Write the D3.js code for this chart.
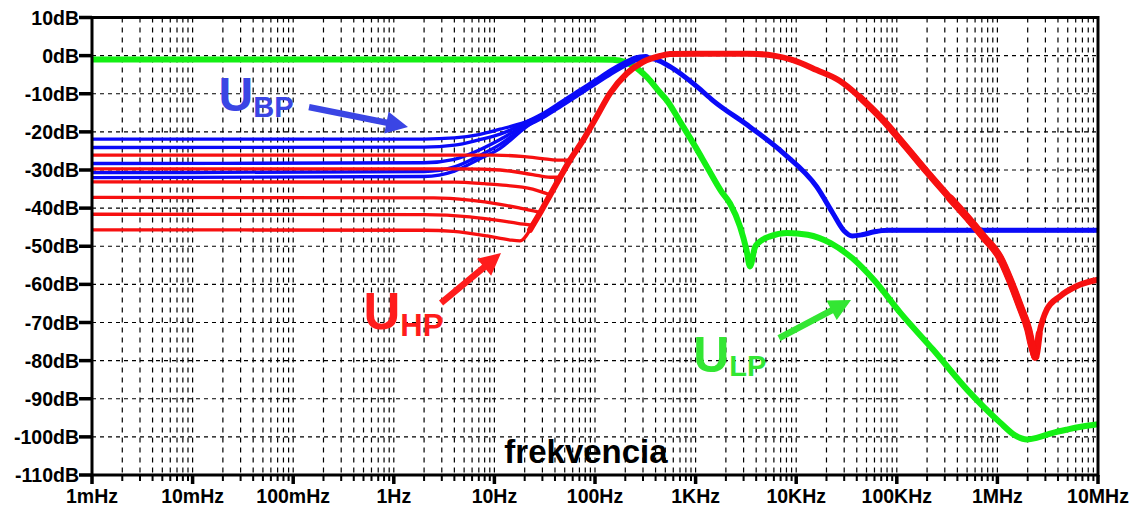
<!DOCTYPE html>
<html><head><meta charset="utf-8">
<script src="https://cdn.jsdelivr.net/npm/d3@7"></script>
<style>
html,body{margin:0;padding:0;background:#fff;}
svg{display:block;}
text{font-family:"Liberation Sans",Arial,"DejaVu Sans",sans-serif;font-weight:bold;}
</style></head><body>
<svg id="chart" width="1138" height="510"></svg>
<script>
// ---- axis ticks ----
const xTickValues = [1e-3,1e-2,1e-1,1,10,100,1e3,1e4,1e5,1e6,1e7];
const xTickLabels = ["1mHz","10mHz","100mHz","1Hz","10Hz","100Hz","1KHz","10KHz","100KHz","1MHz","10MHz"];
const yTickValues = [10,0,-10,-20,-30,-40,-50,-60,-70,-80,-90,-100,-110];
const yTickLabels = ["10dB","0dB","-10dB","-20dB","-30dB","-40dB","-50dB","-60dB","-70dB","-80dB","-90dB","-100dB","-110dB"];

// ---- series: [frequency Hz, dB] ----
const lowPass = [[1e-3,-1.0],[100,-1.0],[150,-1.1],[200,-1.7],[240,-2.7],[330,-5.7],[440,-9.6],[520,-11.8],[700,-17.3],[1000,-24.0],[1300,-29.2],[1800,-35.6],[2200,-38.8],[2760,-44.8],[3200,-50.9],[3470,-55.3],[3900,-50.2],[4400,-48.7],[5500,-47.4],[8100,-46.5],[13000,-47.0],[22000,-49.2],[36000,-53.1],[59000,-58.8],[108000,-67.4],[229000,-77.1],[499000,-87.6],[1.06e6,-96.2],[1.5e6,-99.6],[1.97e6,-100.7],[2.5e6,-100.2],[3.5e6,-99.0],[4.9e6,-98.1],[7e6,-97.3],[1e7,-96.7]];

const bandPassLow1 = [[1e-3,-21.9],[2,-21.9],[4,-21.6],[7,-20.7],[11.4,-19.3],[20,-17.5]];
const bandPassLow2 = [[1e-3,-24.1],[2,-24.0],[4,-23.5],[7,-22.1],[11.4,-20.6],[20,-17.8]];
const bandPassLow3 = [[1e-3,-28.3],[2,-28.1],[4,-27.2],[7,-24.8],[11.4,-22.0],[20,-18.2]];
const bandPassLow4 = [[1e-3,-30.7],[2,-30.4],[4,-29.2],[7,-26.3],[11.4,-23.3],[20,-18.6]];
const bandPassLow5 = [[1e-3,-32.0],[2,-31.7],[4,-30.3],[7,-27.2],[11.4,-24.3],[20,-19.0]];
const bandPassCommon = [[20,-18.1],[30,-15.8],[45,-12.9],[70,-9.6],[100,-7.0],[150,-4.0],[205,-2.0],[260,-0.8],[320,-0.5],[400,-1.0],[557,-2.9],[1040,-8.2],[1490,-11.8],[3470,-18.7],[7400,-25.5],[16000,-34.4],[23000,-41.2],[30000,-46.0],[36000,-47.3],[45000,-47.0],[60000,-46.2],[80000,-45.8],[1e7,-45.8]];

const highPassLow1 = [[1e-3,-26.1],[10,-26.1],[20,-26.5],[30,-27.0],[42,-27.4],[56.4,-27.4]];
const highPassLow2 = [[1e-3,-29.7],[5,-29.7],[11.4,-30.0],[24,-31.2],[36,-31.9],[45,-31.9]];
const highPassLow3 = [[1e-3,-33.1],[4,-33.2],[8,-33.6],[11.4,-33.9],[24,-35.0],[35.7,-36.5]];
const highPassLow4 = [[1e-3,-37.2],[2.5,-37.3],[5.7,-37.9],[11.4,-39.0],[18,-40.0],[28.4,-41.1]];
const highPassLow5 = [[1e-3,-41.6],[2,-41.7],[5.7,-42.3],[11.4,-43.3],[17,-44.0],[24,-44.5]];
const highPassLow6 = [[1e-3,-45.7],[2,-45.8],[3.9,-46.1],[8.5,-47.3],[14,-48.3],[17.9,-48.6],[22.6,-45.7]];
const highPassCommon = [[22.6,-45.7],[28.4,-41.3],[35.7,-36.6],[41.6,-33.5],[56.4,-27.4],[76.5,-22.1],[104,-16.0],[141,-9.9],[207,-4.7],[302,-1.6],[443,-0.1],[557,0.4],[1000,0.5],[3470,0.5],[6000,0.0],[9300,-1.2],[16000,-3.8],[27000,-6.6],[43000,-10.9],[73000,-16.9],[125000,-24.1],[198000,-30.4],[338000,-37.4],[496000,-42.3],[726000,-47.5],[1.06e6,-53.0],[1.33e6,-58.8],[1.68e6,-65.8],[2.03e6,-71.9],[2.2e6,-76.0],[2.38e6,-79.0],[2.6e6,-73.0],[3.1e6,-66.6],[4.2e6,-63.1],[6.1e6,-60.5],[1e7,-58.8]];

// ---- annotations (data coordinates) ----
const annoLabels = [
  {main:"U", sub:"BP", f:0.0181, db:-14.5, mainSize:48, subSize:29, subDy:6, color:"#3a45e4"},
  {main:"U", sub:"HP", f:0.50, db:-71.8, mainSize:51, subSize:31, subDy:7, color:"#ff1c1c"},
  {main:"U", sub:"LP", f:946, db:-82.9, mainSize:50, subSize:29, subDy:4, color:"#33e633"}
];
const annoArrows = [
  {f1:0.1436, db1:-13.5, f2:1.384, db2:-18.7, color:"#3a45e4"},
  {f1:2.95, db1:-64.9, f2:11.63, db2:-51.8, color:"#ff1c1c"},
  {f1:6745, db1:-74.1, f2:35070, db2:-64.1, color:"#33e633"}
];
const axisTitle = {text:"frekvencia", f:81.4, db:-106.9};

// ---- layout ----
const svg = d3.select("#chart");
const L = 92, R = 1098, T = 17.5, B = 475;
const x = d3.scaleLog().domain([1e-3,1e7]).range([L,R]);
const y = d3.scaleLinear().domain([10,-110]).range([T,B]);

// grid
const minorX = [];
for (let e = -3; e < 7; e++) for (let m = 1; m <= 9; m++) minorX.push(m*Math.pow(10,e));
minorX.push(1e7);
const grid = svg.append("g");
grid.selectAll("line.v").data(minorX.filter(v=>v>1e-3 && v<1e7)).enter().append("line")
  .attr("x1",d=>x(d)).attr("x2",d=>x(d)).attr("y1",T).attr("y2",B)
  .attr("stroke","#000").attr("stroke-width",1.2).attr("stroke-dasharray","5,5");
grid.selectAll("line.h").data(yTickValues.filter(v=>v<10 && v>-110)).enter().append("line")
  .attr("x1",L).attr("x2",R).attr("y1",d=>y(d)).attr("y2",d=>y(d))
  .attr("stroke","#000").attr("stroke-width",1.2).attr("stroke-dasharray","4,4");

// curves
svg.append("clipPath").attr("id","clip").append("rect")
  .attr("x",L).attr("y",T).attr("width",R-L).attr("height",B-T);
const plot = svg.append("g").attr("clip-path","url(#clip)");
const line = d3.line().x(d=>x(d[0])).y(d=>y(d[1])).curve(d3.curveMonotoneX);
function draw(data, color, w){
  plot.append("path").datum(data).attr("d",line).attr("fill","none")
    .attr("stroke",color).attr("stroke-width",w)
    .attr("stroke-linejoin","round").attr("stroke-linecap","round");
}
const GREEN="#14f014", BLUE="#0a0af8", RED="#f71010";
draw(lowPass, GREEN, 6);
[bandPassLow1,bandPassLow2,bandPassLow3,bandPassLow4,bandPassLow5].forEach(s=>draw(s.concat([bandPassCommon[1]]), BLUE, 3.3));
draw(bandPassCommon, BLUE, 5);
draw(bandPassCommon.filter(d=>d[0]<=320), BLUE, 7);
draw(bandPassCommon.filter(d=>d[0]>=60000), BLUE, 4);
[highPassLow1,highPassLow2,highPassLow3,highPassLow4,highPassLow5,highPassLow6].forEach(s=>draw(s, RED, 3.3));
draw(highPassCommon, RED, 6);
draw(highPassCommon.filter(d=>d[0]>=43000 && d[0]<=2.6e6), RED, 7);
draw(highPassCommon.filter(d=>d[0]>=338000 && d[0]<=2.38e6), RED, 8);

// frame
svg.append("rect").attr("x",L).attr("y",T).attr("width",R-L).attr("height",B-T)
  .attr("fill","none").attr("stroke","#000").attr("stroke-width",3);

// y axis ticks + labels
const yAx = svg.append("g");
yAx.selectAll("line").data(yTickValues).enter().append("line")
  .attr("x1",79).attr("x2",L).attr("y1",d=>y(d)).attr("y2",d=>y(d))
  .attr("stroke","#000").attr("stroke-width",3.5);
yAx.selectAll("text").data(yTickValues).enter().append("text")
  .attr("x",79).attr("y",d=>y(d)).attr("dy","0.36em").attr("text-anchor","end")
  .attr("font-size",19.5).attr("fill","#000").text((d,i)=>yTickLabels[i]);

// x axis ticks + labels
const xAx = svg.append("g");
xAx.selectAll("line.mi").data(minorX).enter().append("line")
  .attr("x1",d=>x(d)).attr("x2",d=>x(d)).attr("y1",B).attr("y2",B+6)
  .attr("stroke","#000").attr("stroke-width",2);
xAx.selectAll("line.ma").data(xTickValues).enter().append("line")
  .attr("x1",d=>x(d)).attr("x2",d=>x(d)).attr("y1",B).attr("y2",B+9)
  .attr("stroke","#000").attr("stroke-width",3.5);
xAx.selectAll("text").data(xTickValues).enter().append("text")
  .attr("x",d=>x(d)).attr("y",503).attr("text-anchor","middle")
  .attr("font-size",19.5).attr("fill","#000").text((d,i)=>xTickLabels[i]);

// axis title
svg.append("text").attr("x",x(axisTitle.f)).attr("y",y(axisTitle.db))
  .attr("text-anchor","middle").attr("font-size",33).attr("fill","#000").text(axisTitle.text);

// annotations
annoLabels.forEach(a=>{
  const t = svg.append("text").attr("x",x(a.f)).attr("y",y(a.db)).attr("fill",a.color);
  t.append("tspan").attr("font-size",a.mainSize).text(a.main);
  t.append("tspan").attr("font-size",a.subSize).attr("dy",a.subDy).text(a.sub);
});
annoArrows.forEach(a=>{
  const x1=x(a.f1), y1=y(a.db1), x2=x(a.f2), y2=y(a.db2);
  const dx=x2-x1, dy=y2-y1, len=Math.hypot(dx,dy), ux=dx/len, uy=dy/len, px=-uy, py=ux;
  const hl=22, hw=11, sw=3.2;
  const bx=x2-ux*hl, by=y2-uy*hl;
  const pts=[[x1+px*sw,y1+py*sw],[bx+px*sw,by+py*sw],[bx+px*hw,by+py*hw],[x2,y2],
             [bx-px*hw,by-py*hw],[bx-px*sw,by-py*sw],[x1-px*sw,y1-py*sw]];
  svg.append("polygon").attr("points",pts.map(p=>p.join(",")).join(" ")).attr("fill",a.color);
});
</script>
</body></html>
